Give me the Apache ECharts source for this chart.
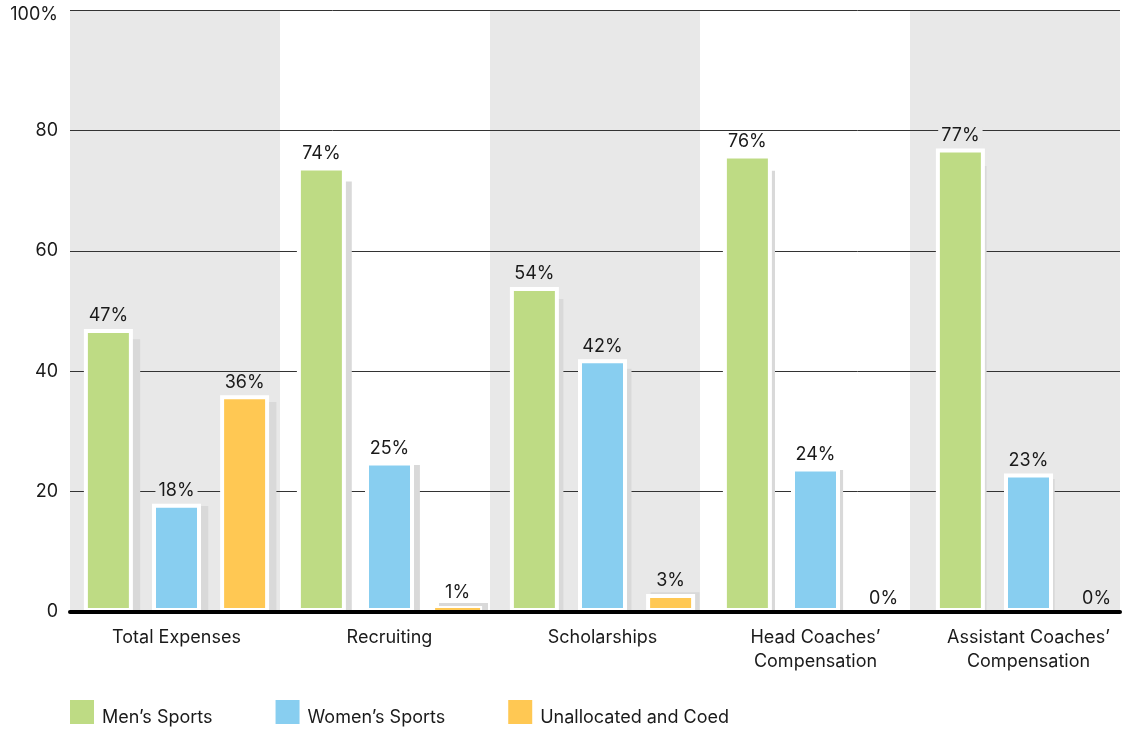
<!DOCTYPE html>
<html>
<head>
<meta charset="utf-8">
<script src="https://cdn.jsdelivr.net/npm/echarts@6/dist/echarts.min.js"></script>
<style>
  html, body { margin: 0; padding: 0; background: #ffffff; }
  #chart { width: 1136px; height: 732px; }
</style>
</head>
<body>
<div id="chart"></div>
<script>
// ---- data ----
const categories = ['Total Expenses', 'Recruiting', 'Scholarships', 'Head Coaches’\nCompensation', 'Assistant Coaches’\nCompensation'];
const seriesNames = ['Men’s Sports', 'Women’s Sports', 'Unallocated and Coed'];
const mensSports = [47, 74, 54, 76, 77];
const womensSports = [18, 25, 42, 24, 23];
const unallocatedCoed = [36, 1, 3, 0, 0];
// heights of the grey drop-shadow bars
const mensShadow = [45.3, 71.5, 52.0, 73.3, 74.1];
const womensShadow = [17.6, 24.4, 40.4, 23.6, 22.1];
const unallocatedShadow = [34.9, 1.5, 3.3, 0, 0];
const yMin = 0, yMax = 100, yStep = 20;

// ---- styling ----
const FONT = 'Inter';
const FS = 18;
const TEXT = '#1a1a1a';
const colors = ['#bedb84', '#88cef0', '#ffc853'];
const BAND = '#e8e8e8';
const SHADOW = '#d9d9d9';
const BAR_W = 49, BAR_GAP = '39%';

const TOP = 10, BOTTOM = 120, LEFT = 70;
const SHADOW_DX = 8;

function realData(values) {
  return values.map((v, i) => ({
    value: v,
    itemStyle: v === 0 ? { borderWidth: 0 } : (v <= 1 ? { borderWidth: 2 } : {}),
    label: { backgroundColor: i % 2 === 0 ? BAND : '#ffffff' }
  }));
}

function realSeries(idx, values) {
  return {
    name: seriesNames[idx],
    type: 'bar',
    xAxisIndex: 1, yAxisIndex: 1,
    z: 3,
    barWidth: BAR_W,
    barGap: BAR_GAP,
    itemStyle: { color: colors[idx], borderColor: '#ffffff', borderWidth: 4 },
    label: {
      show: true, position: 'top', distance: 4,
      formatter: p => p.value + '%',
      fontFamily: FONT, fontSize: FS, color: TEXT,
      padding: [0, 3]
    },
    data: realData(values)
  };
}

function shadowSeries(idx, values) {
  return {
    name: 'shadow' + idx,
    type: 'bar',
    xAxisIndex: 2, yAxisIndex: 2,
    z: 2,
    silent: true,
    barWidth: BAR_W,
    barGap: BAR_GAP,
    itemStyle: { color: SHADOW },
    data: values
  };
}

const chart = echarts.init(document.getElementById('chart'), null, { renderer: 'canvas' });
chart.setOption({
  animation: false,
  backgroundColor: '#ffffff',
  textStyle: { fontFamily: FONT },
  grid: [
    // frame: bands, gridlines, baseline, y labels
    { left: LEFT, right: 16, top: TOP, bottom: BOTTOM, containLabel: false },
    // bars and category labels
    { left: LEFT, right: 1, top: TOP, bottom: BOTTOM, containLabel: false },
    // drop shadows
    { left: LEFT + SHADOW_DX, right: 1 - SHADOW_DX, top: TOP, bottom: BOTTOM, containLabel: false }
  ],
  legend: {
    left: 70, top: 700, padding: 0,
    itemWidth: 24, itemHeight: 24, itemGap: 63,
    icon: 'rect',
    data: seriesNames,
    selectedMode: false,
    itemStyle: { borderWidth: 0 },
    formatter: name => '{t|' + name + '}',
    textStyle: {
      fontFamily: FONT, fontSize: FS, color: TEXT,
      rich: { t: { fontFamily: FONT, fontSize: FS, color: TEXT, padding: [12, 0, 0, 3] } }
    }
  },
  xAxis: [
    {
      type: 'category', gridIndex: 0, position: 'bottom', data: categories, z: 0,
      axisLine: { show: false }, axisTick: { show: false }, axisLabel: { show: false },
      splitArea: { show: true, interval: 0, areaStyle: { color: [BAND, '#ffffff'] } },
      splitLine: { show: false }
    },
    {
      type: 'category', gridIndex: 1, position: 'bottom', data: categories, z: 0,
      axisLine: { show: false }, axisTick: { show: false },
      axisLabel: { fontFamily: FONT, fontSize: FS, color: TEXT, margin: 14, lineHeight: 24, interval: 0 },
      splitArea: { show: false }, splitLine: { show: false }
    },
    {
      type: 'category', gridIndex: 2, data: categories, show: false
    },
    {
      type: 'category', gridIndex: 0, position: 'bottom', data: categories, z: 5,
      axisLine: { show: true, onZero: false, lineStyle: { color: '#000000', width: 4 } },
      axisTick: { show: false }, axisLabel: { show: false },
      splitArea: { show: false }, splitLine: { show: false }
    }
  ],
  yAxis: [
    {
      type: 'value', gridIndex: 0, min: yMin, max: yMax, interval: yStep, z: 1,
      axisLine: { show: false }, axisTick: { show: false },
      axisLabel: {
        fontFamily: FONT, fontSize: FS, color: TEXT, margin: 12,
        formatter: v => v === yMax ? '{top|' + v + '%}' : String(v),
        rich: { top: { fontFamily: FONT, fontSize: FS, color: TEXT, padding: [10, 0, 0, 0] } }
      },
      splitLine: { show: true, lineStyle: { color: '#333333', width: 1 } }
    },
    {
      type: 'value', gridIndex: 1, min: yMin, max: yMax, interval: yStep, show: false,
      splitLine: { show: false }
    },
    {
      type: 'value', gridIndex: 2, min: yMin, max: yMax, interval: yStep, show: false,
      splitLine: { show: false }
    }
  ],
  series: [
    shadowSeries(0, mensShadow),
    shadowSeries(1, womensShadow),
    shadowSeries(2, unallocatedShadow),
    realSeries(0, mensSports),
    realSeries(1, womensSports),
    realSeries(2, unallocatedCoed)
  ]
});
</script>
</body>
</html>
